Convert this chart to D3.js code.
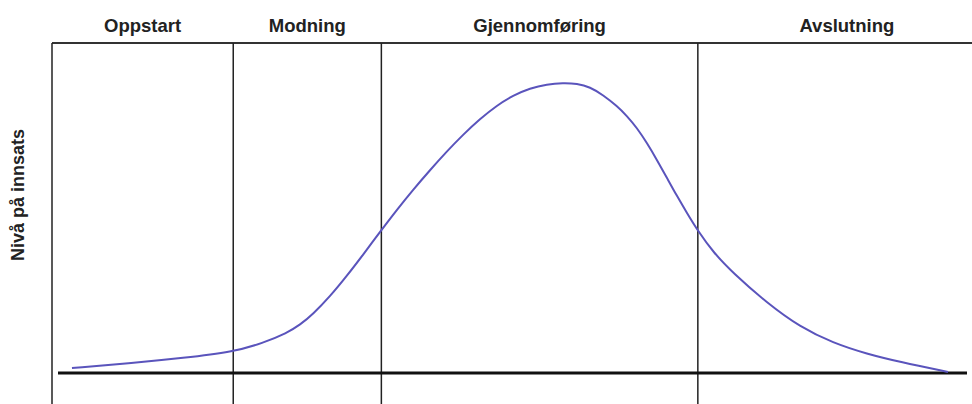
<!DOCTYPE html>
<html>
<head>
<meta charset="utf-8">
<script src="https://cdn.jsdelivr.net/npm/d3@7"></script>
<style>
  html, body { margin: 0; padding: 0; background: #fff; }
  text { font-family: "Liberation Sans", Arial, sans-serif; font-weight: bold; fill: #222; }
</style>
</head>
<body>
<div id="chart"></div>
<script>
// phases and where they start/end along the time axis (0..100)
const phases = ["Oppstart", "Modning", "Gjennomføring", "Avslutning"];
const phaseBounds = [0, 19.7, 35.8, 70.2, 102.6];

// effort curve
const timeValues = [2.17, 8.8, 14.24, 19.67, 22.93, 25.54, 26.96, 28.37, 30.22, 32.07, 33.8, 35.76, 37.5, 39.24, 41.09, 42.93, 44.67, 46.52, 48.37, 50.11, 51.96, 53.8, 55.54, 57.07, 58.48, 59.89, 61.41, 62.5, 63.59, 64.67, 65.76, 66.85, 67.93, 69.02, 70.22, 71.85, 74.02, 77.72, 81.3, 84.89, 88.59, 92.17, 97.39];
const effortValues = [1.52, 3.03, 4.55, 6.36, 9.09, 12.12, 14.6, 17.85, 23.2, 29.5, 35.8, 43.15, 49.5, 55.5, 61.5, 67.2, 72.2, 77.0, 81.1, 84.1, 86.3, 87.5, 87.9, 87.7, 86.67, 84.24, 80.91, 77.88, 74.24, 69.7, 64.55, 59.09, 53.64, 48.48, 43.03, 36.67, 30.3, 21.21, 13.94, 9.09, 5.76, 3.33, 0.3];

const yLabel = "Nivå på innsats";

const width = 972;
const height = 404;
const plotLeft = 52;
const plotTop = 43;
const baseY = 373;

const svg = d3.select("#chart")
  .append("svg")
  .attr("width", width)
  .attr("height", height);

const x = d3.scaleLinear().domain([0, 100]).range([plotLeft, width]);
const y = d3.scaleLinear().domain([0, 100]).range([baseY, plotTop]);

// top border
svg.append("line")
  .attr("x1", plotLeft).attr("x2", width)
  .attr("y1", plotTop).attr("y2", plotTop)
  .attr("stroke", "#333")
  .attr("stroke-width", 2);

// phase dividers (left border included)
svg.selectAll(".divider")
  .data(phaseBounds.slice(0, 4))
  .enter()
  .append("line")
  .attr("class", "divider")
  .attr("x1", d => x(d)).attr("x2", d => x(d))
  .attr("y1", plotTop).attr("y2", height)
  .attr("stroke", "#222")
  .attr("stroke-width", 1.5);

// baseline
svg.append("line")
  .attr("x1", plotLeft + 6).attr("x2", width - 5)
  .attr("y1", y(0)).attr("y2", y(0))
  .attr("stroke", "#111")
  .attr("stroke-width", 3);

// phase headings
svg.selectAll(".phase")
  .data(phases)
  .enter()
  .append("text")
  .attr("class", "phase")
  .attr("x", (d, i) => (x(phaseBounds[i]) + x(phaseBounds[i + 1])) / 2)
  .attr("y", 32)
  .attr("text-anchor", "middle")
  .style("font-size", "18.5px")
  .text(d => d);

// y label
svg.append("text")
  .attr("transform", "translate(24,195) rotate(-90)")
  .attr("text-anchor", "middle")
  .style("font-size", "18px")
  .text(yLabel);

const line = d3.line()
  .x((d, i) => x(timeValues[i]))
  .y(d => y(d))
  .curve(d3.curveBasis);

svg.append("path")
  .datum(effortValues)
  .attr("d", line)
  .attr("fill", "none")
  .attr("stroke", "#5a54bc")
  .attr("stroke-width", 2);
</script>
</body>
</html>
